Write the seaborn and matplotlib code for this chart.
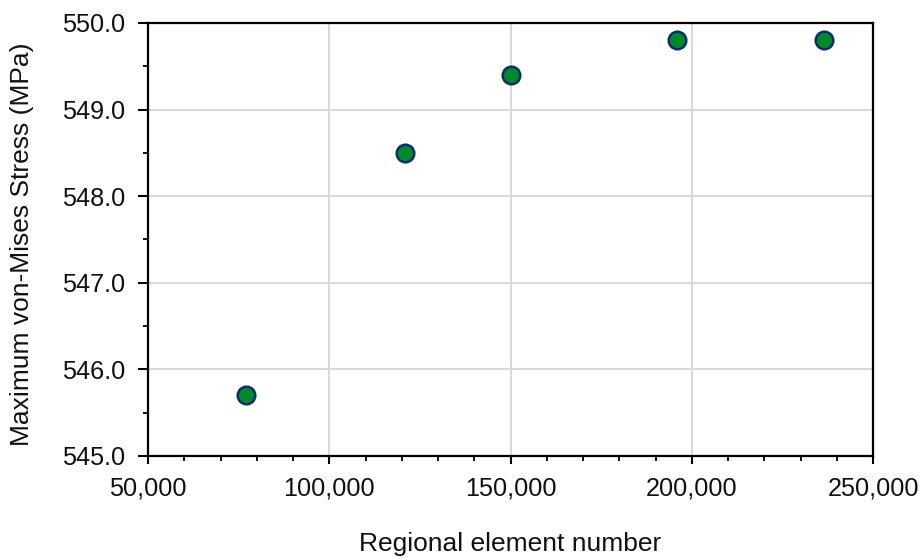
import matplotlib
matplotlib.use("Agg")
import matplotlib.pyplot as plt
import seaborn as sns
import pandas as pd
from matplotlib.ticker import MultipleLocator, FuncFormatter

element_numbers = [77000, 121000, 150000, 196000, 236500]
max_stress = [545.7, 548.5, 549.4, 549.8, 549.8]

sns.set_theme(style="white")
plt.rcParams['font.family'] = ['Liberation Sans', 'DejaVu Sans']

df = pd.DataFrame({"x": element_numbers, "y": max_stress})

L, R, T, B = 148, 873, 23, 456
fig = plt.figure(figsize=(9.22, 5.59), dpi=100)
ax = fig.add_axes([L/922, 1-B/559, (R-L)/922, (B-T)/559])

sns.scatterplot(data=df, x="x", y="y", ax=ax, s=160, color="#00882B",
                edgecolor="#0D2C6C", linewidth=1.8, zorder=3, clip_on=False)

ax.set_xlim(50000, 250000)
ax.set_ylim(545, 550)
ax.xaxis.set_major_locator(MultipleLocator(50000))
ax.xaxis.set_minor_locator(MultipleLocator(10000))
ax.yaxis.set_major_locator(MultipleLocator(1))
ax.yaxis.set_minor_locator(MultipleLocator(0.5))
ax.xaxis.set_major_formatter(FuncFormatter(lambda v, p: f"{int(v):,}"))
ax.yaxis.set_major_formatter(FuncFormatter(lambda v, p: f"{v:.1f}"))

ax.grid(True, which="major", color="#D9D9D9", linewidth=1.5, zorder=0)
ax.set_axisbelow(True)
for s in ax.spines.values():
    s.set_visible(True)
    s.set_color("black")
    s.set_linewidth(1.6)

ax.tick_params(axis="x", which="major", direction="out", length=6, width=1.5,
               color="black", labelsize=18.2, labelcolor="#111111", pad=9,
               bottom=True)
ax.tick_params(axis="y", which="major", direction="out", length=7, width=1.5,
               color="black", labelsize=18.2, labelcolor="#111111", pad=9.5,
               left=True)
ax.tick_params(axis="both", which="minor", direction="out", length=3.5, width=1.3,
               color="black", bottom=True, left=True)

ax.set_xlabel("Regional element number", fontsize=19, color="#111111")
ax.set_ylabel("Maximum von-Mises Stress (MPa)", fontsize=19, color="#111111")
ax.xaxis.set_label_coords(0.5, (B-544)/(B-T))
ax.xaxis.label.set_va("center")
ax.yaxis.set_label_coords((22-L)/(R-L), 0.5 - (244-(T+B)/2)/(B-T))
ax.yaxis.label.set_va("center")

fig.savefig("out.png", dpi=100)
